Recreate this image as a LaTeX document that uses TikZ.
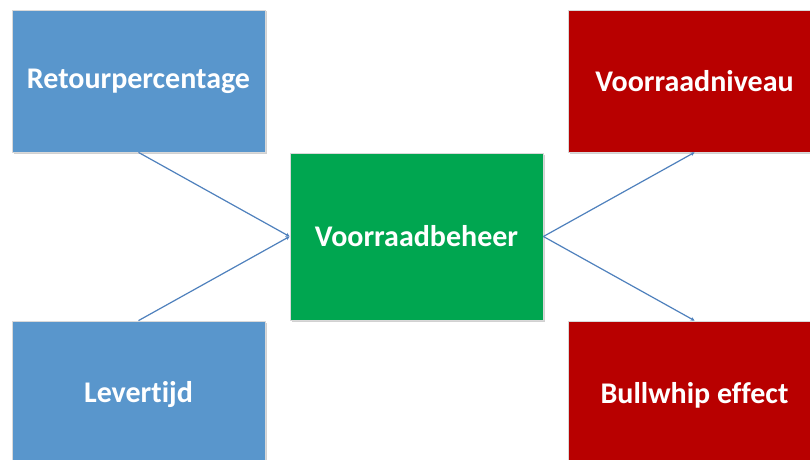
\documentclass[tikz,border=0pt]{standalone}
\usepackage{fontspec}
\setmainfont[Ligatures=NoCommon]{Carlito}
\usetikzlibrary{arrows.meta,shadows}
\definecolor{boxblue}{RGB}{89,150,204}
\definecolor{boxgreen}{RGB}{0,166,80}
\definecolor{boxred}{RGB}{184,0,0}
\definecolor{linkblue}{RGB}{79,129,189}
\tikzset{
  card/.style={draw=white!85!black, line width=0.8pt, minimum width=253pt,
    text=white, font=\bfseries\fontsize{30}{34}\selectfont, inner sep=0pt,
    drop shadow={shadow xshift=1.5pt, shadow yshift=-1.5pt, fill=black, opacity=0.18}},
  cause/.style={card, fill=boxblue, minimum height=142pt},
  core/.style={card, fill=boxgreen, minimum height=167pt},
  effect/.style={card, fill=boxred, minimum height=142pt},
  link/.style={draw=linkblue, line width=1.2pt,
    -{Stealth[length=4pt,width=4pt]}}
}
\begin{document}
\begin{tikzpicture}[x=1pt,y=1pt]
\useasboundingbox (0,0) rectangle (810,459);
\clip (0,0) rectangle (810,459);
\fill[white] (0,0) rectangle (810,459);
% left column: influences
\node[cause] (ret) at (138.5,378) {Retourpercentage};
\node[cause, minimum height=148pt] (lev) at (138.5,64) {Levertijd};
% centre
\node[core] (vb) at (416.5,222.5) {Voorraadbeheer};
% right column: consequences
\node[effect] (vn) at (694.5,378) {Voorraadniveau};
\node[effect, minimum height=148pt] (bw) at (694.5,64) {Bullwhip effect};
% connectors
\draw[link] (ret.south) -- (vb.west);
\draw[link] (lev.north) -- (vb.west);
\draw[link] (vb.east) -- (vn.south);
\draw[link] (vb.east) -- (bw.north);
\end{tikzpicture}
\end{document}
